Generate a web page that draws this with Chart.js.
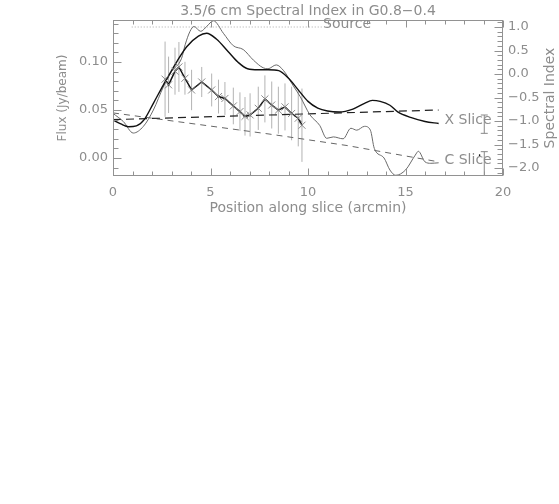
<!DOCTYPE html>
<html><head><meta charset="utf-8">
<script src="https://cdn.jsdelivr.net/npm/chart.js@4"></script>
<style>html,body{margin:0;padding:0;background:#fff;}canvas{display:block;}</style>
</head><body>
<canvas id="c" width="559" height="504"></canvas>
<script>
// ---- text ----
const chartTitle = '3.5/6 cm Spectral Index in G0.8\u22120.4';
const xTitle = 'Position along slice (arcmin)';
const yLeftTitle = 'Flux (Jy/beam)';
const yRightTitle = 'Spectral Index';
// ---- tick labels ----
const xTicks = [0, 5, 10, 15, 20];
const fluxTicks = [0.00, 0.05, 0.10];
const siTicks = [-2.0, -1.5, -1.0, -0.5, 0.0, 0.5, 1.0];
// ---- X slice flux ----
const xSliceX = [0,0.4,0.8,1.2,1.6,2.07,2.58,3.26,3.78,4.38,4.8,5.3,5.9,6.4,6.9,7.45,7.95,8.5,9.0,9.5,10.0,10.5,11.0,11.6,12.3,12.9,13.3,13.7,14.2,14.6,15.3,16.0,16.7];
const xSliceFlux = [0.0396,0.0355,0.0326,0.0335,0.040,0.057,0.076,0.100,0.116,0.127,0.130,0.124,0.111,0.100,0.093,0.092,0.092,0.091,0.083,0.071,0.059,0.052,0.049,0.048,0.051,0.057,0.060,0.059,0.055,0.048,0.042,0.038,0.036];
// ---- C slice flux ----
const cSliceX = [0,0.53,1.04,1.56,2.07,2.58,3.0,3.52,3.7,3.95,4.15,4.5,4.8,5.15,5.66,6.17,6.68,7.2,7.7,7.95,8.37,8.75,9.25,9.6,10.1,10.6,10.96,11.3,11.8,12.2,12.5,12.9,13.2,13.4,13.9,14.2,14.5,15.0,15.5,15.66,16.0,16.3,16.7];
const cSliceFlux = [0.0465,0.038,0.026,0.033,0.050,0.074,0.090,0.104,0.118,0.132,0.137,0.132,0.137,0.143,0.130,0.117,0.113,0.102,0.094,0.093,0.097,0.091,0.075,0.064,0.045,0.034,0.0205,0.022,0.020,0.031,0.029,0.033,0.029,0.010,0.0,-0.0125,-0.018,-0.0125,0.003,0.007,-0.004,-0.0055,-0.005];
// ---- baselines ----
const xBaseX = [0, 16.7];
const xBaseFlux = [0.040, 0.050];
const cBaseX = [0, 4, 8, 12, 16.7];
const cBaseFlux = [0.047, 0.036, 0.025, 0.013, -0.004];
// ---- source marker ----
const sourceX = [0.96, 10.7];
const sourceFlux = [0.1365, 0.1365];
// ---- spectral index ----
const siX = [2.67,2.85,3.18,3.38,3.69,4.03,4.55,5.06,5.41,5.74,6.17,6.51,6.77,7.03,7.45,7.79,8.14,8.48,8.82,9.16,9.50,9.69];
const siVal = [-0.11,-0.23,0.06,0.15,-0.09,-0.34,-0.17,-0.34,-0.48,-0.52,-0.68,-0.80,-0.90,-0.87,-0.73,-0.53,-0.66,-0.77,-0.70,-0.84,-0.94,-1.09];
const siErr = [0.80,0.60,0.50,0.53,0.35,0.43,0.32,0.35,0.36,0.35,0.39,0.41,0.41,0.46,0.46,0.50,0.50,0.50,0.50,0.57,0.60,0.78];
// ---- representative flux error bars ----
const fluxErrX = [19.04, 19.04];
const fluxErrLo = [0.0257, -0.0325];
const fluxErrHi = [0.0448, 0.0066];
const dotX = [18.8];
const dotFlux = [0.003];
// ---- in-plot labels ----
const labelText = ['Source', 'X Slice', 'C Slice'];
const labelX = [10.77, 17.0, 17.0];
const labelFlux = [0.1396, 0.0396, -0.002];

const FLUX_MIN = -0.01875, FLUX_MAX = 0.1438;
const SI_MIN = -2.17, SI_MAX = 1.149;

const TXT = '#8d8d8d';
const AX = '#929292';
const FAM = '"DejaVu Sans ExtraLight", "DejaVu Sans"';
Chart.defaults.font.family = FAM;
Chart.defaults.color = TXT;

const pts = (xs, ys) => xs.map((x, i) => ({x, y: ys[i]}));
const errPts = [];
siX.forEach((x, i) => { errPts.push({x, y: siVal[i] - siErr[i]}, {x, y: siVal[i] + siErr[i]}, {x, y: null}); });
const fluxErrPts = [];
fluxErrX.forEach((x, i) => { fluxErrPts.push({x, y: fluxErrLo[i]}, {x, y: fluxErrHi[i]}, {x, y: null}); });

const fmtSI = v => (v < 0 ? '\u2212' : '') + Math.abs(v).toFixed(1);

const deco = {
  id: 'deco',
  afterDraw(chart) {
    const {ctx, chartArea: a, scales} = chart;
    const xs = scales.x, yl = scales.y, yr = scales.y2;
    ctx.save();
    ctx.strokeStyle = AX; ctx.lineWidth = 1;
    const L = Math.round(a.left) + 0.5, R = Math.round(a.right) - 0.5, T = Math.round(a.top) + 0.5, B = Math.round(a.bottom) - 0.5;
    ctx.strokeRect(L, T, R - L, B - T);
    ctx.beginPath();
    for (let v = 0; v <= 20.001; v += 1) {
      const major = xTicks.some(t => Math.abs(t - v) < 1e-6);
      const len = major ? 7 : 4;
      const p = Math.round(xs.getPixelForValue(v)) + 0.5;
      ctx.moveTo(p, B); ctx.lineTo(p, B - len);
      ctx.moveTo(p, T); ctx.lineTo(p, T + len);
    }
    for (let k = -1; k <= 14; k++) {
      const v = k / 100;
      const major = fluxTicks.some(t => Math.abs(t - v) < 1e-6);
      const len = major ? 8 : 5;
      const p = Math.round(yl.getPixelForValue(v)) + 0.5;
      ctx.moveTo(L, p); ctx.lineTo(L + len, p);
    }
    for (let k = -21; k <= 11; k++) {
      const v = k / 10;
      const major = siTicks.some(t => Math.abs(t - v) < 1e-6);
      const len = major ? 8 : 5;
      const p = Math.round(yr.getPixelForValue(v)) + 0.5;
      ctx.moveTo(R, p); ctx.lineTo(R - len, p);
    }
    ctx.stroke();
    // texts
    ctx.fillStyle = TXT;
    ctx.font = '14px ' + FAM;
    ctx.textAlign = 'center'; ctx.textBaseline = 'middle';
    ctx.fillText(chartTitle, (a.left + a.right) / 2, 11);
    ctx.save();
    ctx.translate(550, (a.top + a.bottom) / 2);
    ctx.rotate(-Math.PI / 2);
    ctx.fillText(yRightTitle, 0, 0);
    ctx.restore();
    ctx.textAlign = 'left';
    labelText.forEach((t, i) => {
      ctx.fillText(t, xs.getPixelForValue(labelX[i]), yl.getPixelForValue(labelFlux[i]));
    });
    ctx.restore();
  }
};

new Chart(document.getElementById('c'), {
  type: 'line',
  data: {
    datasets: [
      {label: 'SI', data: pts(siX, siVal), yAxisID: 'y2', borderColor: '#111', borderWidth: 1.5, tension: 0,
        pointStyle: 'crossRot', pointRadius: 5, pointBorderColor: '#8a8a8a', pointBorderWidth: 1, order: 1},
      {label: 'SI err', data: errPts, yAxisID: 'y2', borderColor: '#b3b3b3', borderWidth: 1, pointRadius: 0, spanGaps: false, tension: 0, order: 9},
      {label: 'X Slice', data: pts(xSliceX, xSliceFlux), yAxisID: 'y', borderColor: '#111', borderWidth: 1.4, pointRadius: 0, cubicInterpolationMode: 'monotone', order: 3},
      {label: 'C Slice', data: pts(cSliceX, cSliceFlux), yAxisID: 'y', borderColor: '#6a6a6a', borderWidth: 1, pointRadius: 0, cubicInterpolationMode: 'monotone', order: 4},
      {label: 'X base', data: pts(xBaseX, xBaseFlux), yAxisID: 'y', borderColor: '#222', borderWidth: 1.2, borderDash: [8, 5], pointRadius: 0, order: 5},
      {label: 'C base', data: pts(cBaseX, cBaseFlux), yAxisID: 'y', borderColor: '#666', borderWidth: 1, borderDash: [6, 5], pointRadius: 0, order: 6},
      {label: 'Source', data: pts(sourceX, sourceFlux), yAxisID: 'y', borderColor: '#aaa', borderWidth: 1, borderDash: [1, 2], pointRadius: 0, order: 7},
      {label: 'flux err', data: fluxErrPts, yAxisID: 'y', borderColor: '#888', borderWidth: 1, spanGaps: false,
        pointStyle: 'line', pointRadius: 3.5, pointBorderColor: '#888', pointBorderWidth: 1, order: 8},
      {label: 'dot', data: pts(dotX, dotFlux), yAxisID: 'y', showLine: false, pointRadius: 0.8, pointBackgroundColor: '#000', pointBorderWidth: 0, order: 2}
    ]
  },
  options: {
    responsive: false, animation: false, devicePixelRatio: 1,
    layout: {padding: {top: 20, left: 0, right: 0, bottom: 0}},
    plugins: {legend: {display: false}, tooltip: {enabled: false}, title: {display: false}},
    scales: {
      x: {type: 'linear', min: 0, max: 20,
        afterBuildTicks: s => { s.ticks = xTicks.map(v => ({value: v})); },
        afterFit: s => { s.height = 328; },
        grid: {display: false, drawTicks: false}, border: {display: false},
        ticks: {padding: 9, font: {size: 13}, color: TXT, callback: v => String(v)},
        title: {display: true, text: xTitle, font: {size: 14}, color: TXT, padding: {top: 0, bottom: 287}}
      },
      y: {type: 'linear', position: 'left', min: FLUX_MIN, max: FLUX_MAX,
        afterBuildTicks: s => { s.ticks = fluxTicks.map(v => ({value: v})); },
        afterFit: s => { s.width = 113; },
        grid: {display: false, drawTicks: false}, border: {display: false},
        ticks: {padding: 5, font: {size: 13}, color: TXT, callback: v => v.toFixed(2)},
        title: {display: true, text: yLeftTitle, font: {size: 12}, color: TXT, padding: {top: 56, bottom: 0}}
      },
      y2: {type: 'linear', position: 'right', min: SI_MIN, max: SI_MAX,
        afterBuildTicks: s => { s.ticks = siTicks.map(v => ({value: v})); },
        afterFit: s => { s.width = 56; },
        grid: {display: false, drawTicks: false}, border: {display: false},
        ticks: {padding: 5, font: {size: 13}, color: TXT, callback: v => fmtSI(v)},
        title: {display: false}
      }
    }
  },
  plugins: [deco]
});
</script>
</body></html>
